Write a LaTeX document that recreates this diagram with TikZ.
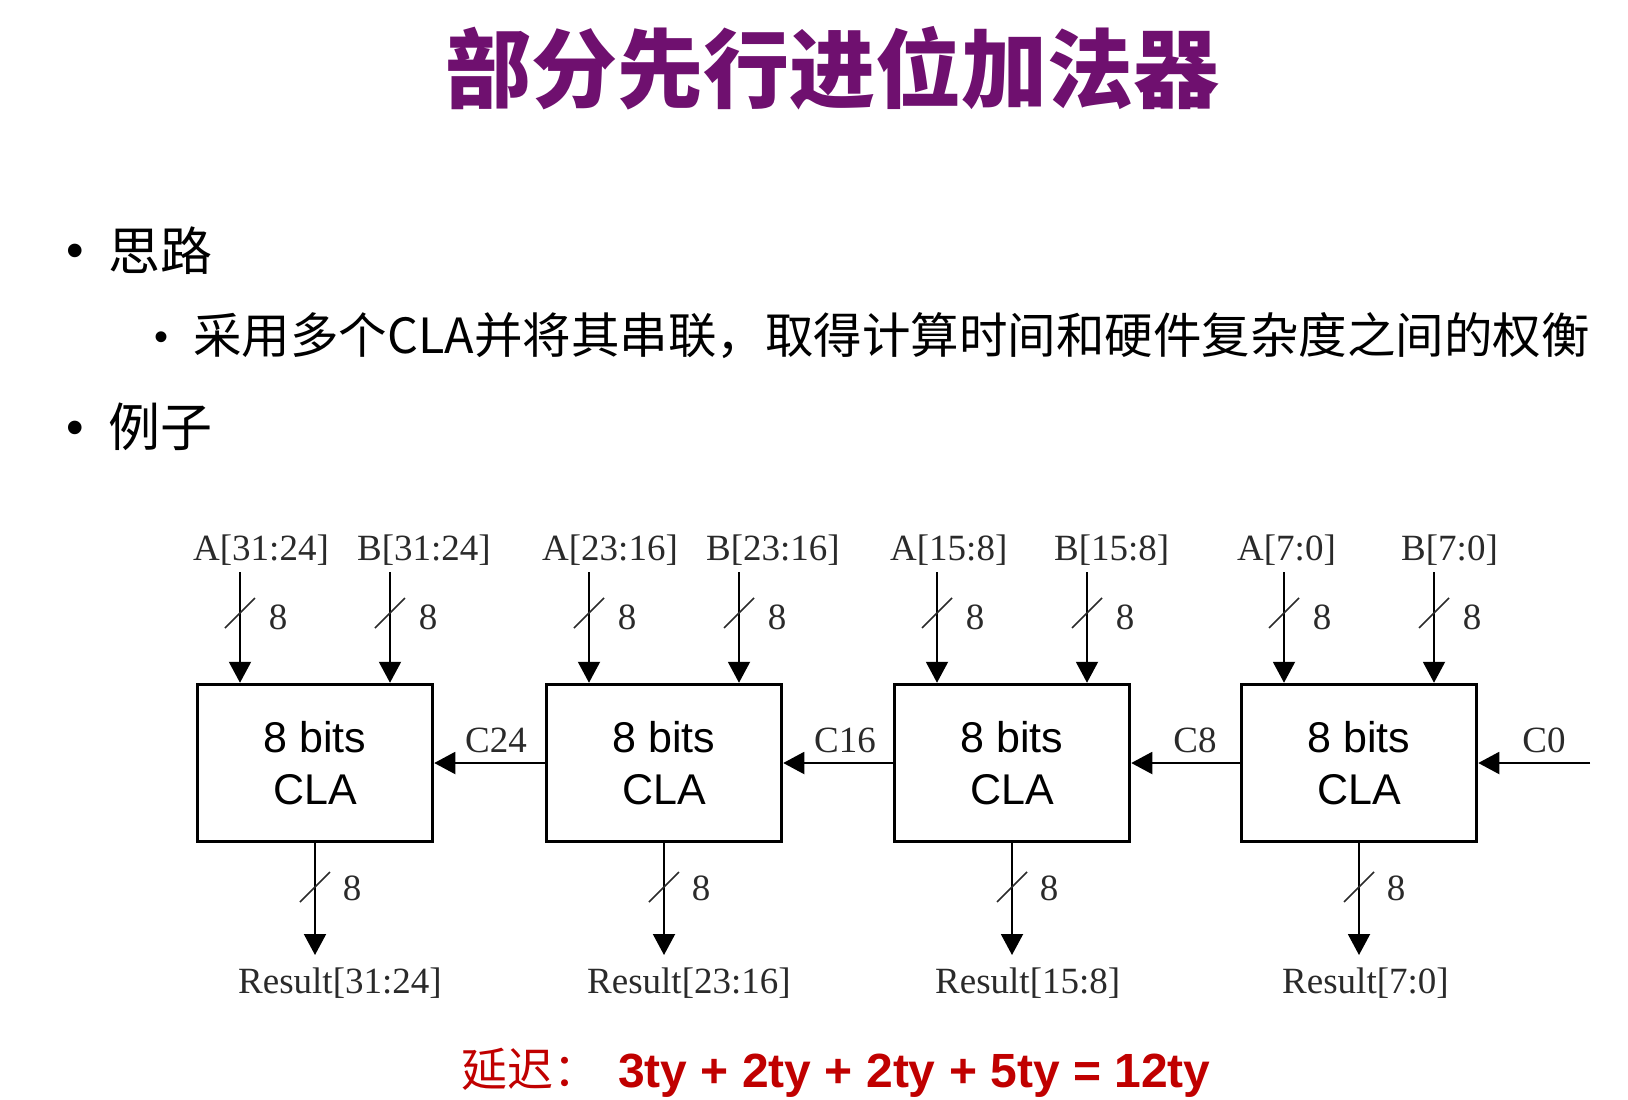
\documentclass[tikz,border=0pt]{standalone}
\usepackage{fontspec}
\setmainfont{Liberation Serif}
\newfontfamily\cjk{Noto Sans CJK SC}
\newfontfamily\arialf{Liberation Sans}
\usetikzlibrary{arrows.meta}
\definecolor{titlepurple}{HTML}{6F106F}
\definecolor{delayred}{HTML}{C00000}
\definecolor{lblgray}{HTML}{2A2A2A}
\begin{document}
\begin{tikzpicture}[x=1pt,y=-1pt,
  clabox/.style={draw, line width=3.5pt, minimum width=235pt, minimum height=157pt, inner sep=0pt, align=center, font=\arialf\fontsize{43}{52}\selectfont},
  sig/.style={line width=2pt, -{Triangle[length=21pt,width=22pt]}},
  buslbl/.style={font=\fontsize{37}{37}\selectfont, text=lblgray, inner sep=0pt},
  slashln/.style={line width=1.5pt, lblgray},
  bulletdot/.style={font=\arialf, inner sep=0pt, anchor=base},
  cjktext/.style={inner sep=0pt, anchor=base west},
]
\useasboundingbox (0,0) rectangle (1628,1100);

% title
\node[inner sep=0pt, anchor=base, text=titlepurple, font=\cjk\bfseries\fontsize{86}{86}\selectfont] (title) at (832,101) {部分先行进位加法器};

% bullets
\node[bulletdot, font=\arialf\fontsize{50}{50}\selectfont] (bul1) at (75,267) {•};
\node[cjktext, font=\cjk\fontsize{52}{52}\selectfont] (t1) at (108,270) {思路};
\node[bulletdot, font=\arialf\fontsize{40}{40}\selectfont] (bul2) at (161,350) {•};
\node[cjktext, font=\cjk\fontsize{48.5}{48.5}\selectfont] (t2) at (193,353) {采用多个CLA并将其串联，取得计算时间和硬件复杂度之间的权衡};
\node[bulletdot, font=\arialf\fontsize{50}{50}\selectfont] (bul3) at (75,444) {•};
\node[cjktext, font=\cjk\fontsize{52}{52}\selectfont] (t3) at (108,446) {例子};

% CLA boxes
\node[clabox] (b1) at (315,763) {8 bits\\CLA};
\node[clabox] (b2) at (664,763) {8 bits\\CLA};
\node[clabox] (b3) at (1012,763) {8 bits\\CLA};
\node[clabox] (b4) at (1359,763) {8 bits\\CLA};

\foreach \b/\cx/\hi/\lo in {b1/315/31/24, b2/664/23/16, b3/1012/15/8, b4/1359/7/0} {
  % inputs
  \node[buslbl, anchor=west] (la\b) at (\cx-122,550) {A[\hi:\lo]};
  \node[buslbl, anchor=west] (lb\b) at (\cx+42,550) {B[\hi:\lo]};
  \coordinate (ia\b) at (\cx-75,572);
  \coordinate (ib\b) at (\cx+75,572);
  \draw[sig] (ia\b) -- (ia\b |- \b.north);
  \draw[sig] (ib\b) -- (ib\b |- \b.north);
  \draw[slashln] (\cx-90,628) -- ++(30,-30);
  \draw[slashln] (\cx+60,628) -- ++(30,-30);
  \node[buslbl] (na\b) at (\cx-37,617) {8};
  \node[buslbl] (nb\b) at (\cx+113,617) {8};
  % output
  \coordinate (ro\b) at (\cx,955);
  \draw[sig] (\b.south) -- (ro\b);
  \draw[slashln] (\cx-15,902) -- ++(30,-30);
  \node[buslbl] (no\b) at (\cx+37,888) {8};
  \node[buslbl, anchor=west] (r\b) at (\cx-77,983) {Result[\hi:\lo]};
}

% carries
\draw[sig] (b2.west) -- (b1.east);
\draw[sig] (b3.west) -- (b2.east);
\draw[sig] (b4.west) -- (b3.east);
\coordinate (cin) at (1590,763);
\draw[sig] (cin) -- (b4.east);
\node[buslbl] (c24) at (496,740) {C24};
\node[buslbl] (c16) at (845,740) {C16};
\node[buslbl] (c8) at (1195,740) {C8};
\node[buslbl] (c0) at (1544,740) {C0};

% delay
\node[cjktext, text=delayred, font=\cjk\fontsize{46}{46}\selectfont] (dl) at (461,1086) {延迟：};
\node[cjktext, text=delayred, font=\arialf\bfseries\fontsize{48}{48}\selectfont] (eq) at (618,1087) {3ty + 2ty + 2ty + 5ty = 12ty};
\end{tikzpicture}
\end{document}
